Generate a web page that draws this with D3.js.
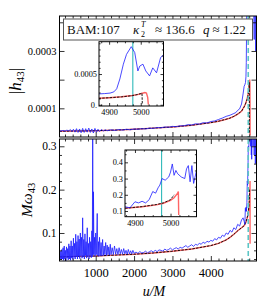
<!DOCTYPE html>
<html><head><meta charset="utf-8">
<script src="https://cdn.jsdelivr.net/npm/d3@7"></script>
<style>
body{margin:0;background:#fff;}
svg{display:block;font-family:"Liberation Serif","DejaVu Serif",serif;}
.ax path.domain{display:none;}
.ax line{stroke:#000;stroke-width:0.8;}
</style></head><body>
<svg id="c" width="270" height="298"></svg>
<script>
// ---------- data ----------
const blueH = [[57,2.2e-5],[100,2.1e-5],[150,2.3e-5],[200,2.0e-5],[250,2.4e-5],[300,2.1e-5],[340,2.6e-5],[380,1.9e-5],[420,2.7e-5],[460,1.7e-5],[500,2.9e-5],[540,1.6e-5],[580,2.8e-5],[620,1.5e-5],[660,3.0e-5],[700,1.6e-5],[740,2.9e-5],[780,1.7e-5],[820,3.1e-5],[860,1.6e-5],[900,2.8e-5],[940,1.4e-5],[980,3.0e-5],[1020,1.7e-5],[1060,2.7e-5],[1100,1.9e-5],[1150,2.6e-5],[1200,2.1e-5],[1250,2.5e-5],[1300,2.2e-5],[1400,2.5e-5],[1500,2.3e-5],[1600,2.6e-5],[1700,2.4e-5],[1800,2.7e-5],[1900,2.5e-5],[2000,2.8e-5],[2100,2.7e-5],[2200,2.9e-5],[2300,2.8e-5],[2400,3.1e-5],[2500,3.0e-5],[2600,3.3e-5],[2700,3.2e-5],[2800,3.5e-5],[2900,3.4e-5],[3000,3.7e-5],[3100,3.6e-5],[3200,3.9e-5],[3300,3.9e-5],[3400,4.3e-5],[3500,4.2e-5],[3600,4.6e-5],[3700,4.5e-5],[3800,5.0e-5],[3900,4.9e-5],[4000,5.4e-5],[4100,5.6e-5],[4200,6.1e-5],[4300,6.6e-5],[4400,7.2e-5],[4500,7.6e-5],[4600,8.2e-5],[4650,8.5e-5],[4700,9.3e-5],[4750,9.8e-5],[4800,0.000115],[4840,0.00015],[4868,0.000177],[4886,0.000182],[4903,0.00019],[4915,0.00021],[4924,0.00026],[4934,0.00042],[4945,0.00066],[4955,0.00082],[4970,0.000945],[4981,0.00085],[4991,0.00055],[4997,0.00063],[5007,0.00066],[5016,0.00055],[5028,0.00047],[5038,0.0006],[5050,0.00052],[5063,0.00077],[5072,0.00081],[5100,0.0006],[5130,0.00034],[5150,0.0007],[5170,0.00030],[5190,0.0006]];
const redH = [[57,2.0e-5],[500,2.1e-5],[1000,2.2e-5],[1500,2.4e-5],[2000,2.7e-5],[2500,3.1e-5],[3000,3.5e-5],[3500,4.1e-5],[4000,5.0e-5],[4200,5.5e-5],[4400,6.2e-5],[4500,6.6e-5],[4600,7.2e-5],[4700,8.0e-5],[4800,9.0e-5],[4868,0.000106],[4900,0.000115],[4940,0.00013],[4973,0.00015],[4990,0.000165],[5000,0.00018],[5013,0.0002],[5018,0.00019],[5022,0.00012],[5024,0.000005]];
const blackH = [[57,2.0e-5],[500,2.1e-5],[1000,2.2e-5],[1500,2.4e-5],[2000,2.7e-5],[2500,3.1e-5],[3000,3.5e-5],[3500,4.1e-5],[4000,5.0e-5],[4200,5.5e-5],[4400,6.2e-5],[4500,6.6e-5],[4600,7.2e-5],[4700,8.0e-5],[4800,9.0e-5],[4868,0.000105],[4900,0.000114],[4940,0.000129],[4973,0.000148],[4990,0.000168],[5000,0.000182],[5004,0.00019],[5005,0.00001]];
const blueW = [[57,0.05],[75,0.04],[90,0.058],[105,0.038],[120,0.062],[135,0.04],[150,0.066],[165,0.037],[180,0.07],[195,0.04],[210,0.06],[225,0.036],[240,0.068],[255,0.042],[270,0.064],[285,0.038],[300,0.075],[315,0.04],[330,0.07],[345,0.037],[360,0.082],[375,0.042],[390,0.07],[405,0.039],[420,0.088],[435,0.044],[450,0.076],[465,0.04],[480,0.097],[495,0.045],[510,0.08],[525,0.04],[540,0.094],[555,0.046],[570,0.086],[585,0.041],[600,0.1],[615,0.047],[630,0.09],[645,0.042],[660,0.135],[675,0.045],[690,0.085],[705,0.04],[720,0.098],[735,0.048],[750,0.08],[765,0.042],[780,0.112],[795,0.046],[810,0.076],[825,0.04],[840,0.09],[855,0.048],[870,0.08],[885,0.043],[900,0.105],[912,0.045],[922,0.34],[932,0.05],[942,0.195],[955,0.05],[970,0.09],[985,0.046],[1000,0.1],[1015,0.05],[1040,0.145],[1055,0.048],[1070,0.08],[1085,0.046],[1100,0.09],[1120,0.048],[1140,0.078],[1160,0.047],[1180,0.085],[1200,0.048],[1220,0.07],[1240,0.05],[1260,0.078],[1280,0.048],[1300,0.072],[1320,0.05],[1340,0.068],[1360,0.049],[1380,0.074],[1400,0.05],[1430,0.066],[1460,0.05],[1490,0.07],[1520,0.051],[1550,0.064],[1580,0.05],[1610,0.066],[1640,0.052],[1670,0.062],[1700,0.051],[1730,0.064],[1760,0.052],[1790,0.06],[1820,0.051],[1850,0.062],[1880,0.052],[1910,0.059],[1940,0.052],[1970,0.06],[2000,0.053],[2050,0.056],[2100,0.053],[2150,0.057],[2200,0.054],[2250,0.055],[2300,0.058],[2350,0.054],[2400,0.057],[2450,0.059],[2500,0.056],[2550,0.06],[2600,0.057],[2650,0.061],[2700,0.06],[2750,0.058],[2800,0.063],[2850,0.06],[2900,0.062],[2950,0.065],[3000,0.061],[3050,0.064],[3100,0.066],[3150,0.063],[3200,0.067],[3250,0.065],[3300,0.068],[3350,0.071],[3400,0.067],[3450,0.07],[3500,0.073],[3550,0.069],[3600,0.074],[3650,0.072],[3700,0.076],[3750,0.074],[3800,0.079],[3850,0.076],[3900,0.081],[3950,0.079],[4000,0.083],[4050,0.081],[4100,0.087],[4150,0.084],[4200,0.09],[4250,0.088],[4300,0.095],[4350,0.092],[4400,0.1],[4450,0.097],[4500,0.106],[4550,0.102],[4600,0.112],[4650,0.108],[4700,0.12],[4750,0.116],[4800,0.13],[4840,0.135],[4872,0.126],[4886,0.12],[4900,0.157],[4910,0.15],[4920,0.16],[4930,0.15],[4940,0.17],[4950,0.22],[4958,0.21],[4965,0.243],[4970,0.26],[4976,0.30],[4985,0.29],[4995,0.31],[5000,0.34],[5005,0.39],[5010,0.32],[5015,0.35],[5020,0.33],[5030,0.31],[5040,0.30],[5045,0.36],[5050,0.38],[5055,0.28],[5060,0.38],[5065,0.27],[5072,0.34],[5085,0.42],[5100,0.3],[5115,0.45],[5130,0.28],[5145,0.41],[5160,0.26],[5175,0.38],[5190,0.3]];
const redW = [[57,0.045],[500,0.046],[1000,0.047],[1500,0.049],[2000,0.051],[2500,0.054],[3000,0.058],[3500,0.063],[4000,0.071],[4200,0.076],[4400,0.084],[4500,0.09],[4600,0.097],[4700,0.105],[4800,0.112],[4872,0.117],[4920,0.126],[4960,0.138],[4980,0.148],[5000,0.166],[5010,0.182],[5020,0.21],[5022,0.22],[5023,0.075]];
const blackW = [[57,0.045],[500,0.046],[1000,0.047],[1500,0.049],[2000,0.051],[2500,0.054],[3000,0.058],[3500,0.063],[4000,0.071],[4200,0.076],[4400,0.084],[4500,0.09],[4600,0.097],[4700,0.105],[4800,0.112],[4872,0.117],[4920,0.127],[4960,0.14],[4980,0.15],[5000,0.17],[5010,0.2]];
const mergerU = 4975;
const xTicks = [1000,2000,3000,4000];
const xMinor = [200,400,600,800,1200,1400,1600,1800,2200,2400,2600,2800,3200,3400,3600,3800,4200,4400,4600,4800,5000];
const hTicks = [0.0001,0.0002,0.0003,0.0004];
const hTickLabels = ["0.0001","","0.0003",""];
const wTicks = [0.1,0.2,0.3];
const wMinor = [0.04,0.06,0.08,0.12,0.14,0.16,0.18,0.22,0.24,0.26,0.28];
const inXTicks = [4900,5000];
const inXMinor = [4875,4925,4950,4975,5025,5050];
const inHTicks = [0,0.0005];
const inHTickLabels = ["0.","0.0005"];
const inHMinor = [0.0001,0.0002,0.0003,0.0004,0.0006,0.0007,0.0008,0.0009,0.001];
const inWTicks = [0.1,0.2,0.3,0.4];
const inWMinor = [0.15,0.25,0.35,0.45];

// ---------- layout ----------
const svg = d3.select("#c");
const L = 59.5, R = 256.5;
const T1 = 16, B1 = 137, T2 = 139, B2 = 261;
const x = d3.scaleLinear().domain([57,5190]).range([L,R]);
const yH = d3.scaleLinear().domain([0,0.000422]).range([B1,T1]);
const yW = d3.scaleLinear().domain([0.0354,0.3168]).range([B2,T2]);

const BLUE = "#1f1fff", RED = "#ff4a4a";

function clip(id, x0,y0,w,h){
  svg.append("clipPath").attr("id",id).append("rect").attr("x",x0).attr("y",y0).attr("width",w).attr("height",h);
}
function curves(g, xs, ys, blue, red, black, bw){
  const ln = d3.line().x(d=>xs(d[0])).y(d=>ys(d[1]));
  g.append("path").attr("d",ln(red)).attr("fill","none").attr("stroke",RED).attr("stroke-width",1.4).attr("stroke-opacity",0.85);
  g.append("path").attr("d",ln(black)).attr("fill","none").attr("stroke","#000").attr("stroke-width",0.9).attr("stroke-dasharray","2.5,1.2");
  g.append("path").attr("d",ln(blue)).attr("fill","none").attr("stroke",BLUE).attr("stroke-width",bw).attr("stroke-opacity",0.9);
}
function ticks(xs, ys, x0,x1,y0,y1, xt, xm, yt, ym, len, mlen){
  const g = svg.append("g").attr("class","ax");
  g.append("g").attr("transform",`translate(0,${y1})`).call(d3.axisBottom(xs).tickValues(xt).tickSize(-len).tickFormat(""));
  g.append("g").attr("transform",`translate(0,${y1})`).call(d3.axisBottom(xs).tickValues(xm).tickSize(-mlen).tickFormat(""));
  g.append("g").attr("transform",`translate(0,${y0})`).call(d3.axisTop(xs).tickValues(xt).tickSize(-len).tickFormat(""));
  g.append("g").attr("transform",`translate(0,${y0})`).call(d3.axisTop(xs).tickValues(xm).tickSize(-mlen).tickFormat(""));
  g.append("g").attr("transform",`translate(${x0},0)`).call(d3.axisLeft(ys).tickValues(yt).tickSize(-len).tickFormat(""));
  g.append("g").attr("transform",`translate(${x0},0)`).call(d3.axisLeft(ys).tickValues(ym).tickSize(-mlen).tickFormat(""));
  g.append("g").attr("transform",`translate(${x1},0)`).call(d3.axisRight(ys).tickValues(yt).tickSize(-len).tickFormat(""));
  g.append("g").attr("transform",`translate(${x1},0)`).call(d3.axisRight(ys).tickValues(ym).tickSize(-mlen).tickFormat(""));
  g.selectAll("text").remove();
  svg.append("rect").attr("x",x0).attr("y",y0).attr("width",x1-x0).attr("height",y1-y0).attr("fill","none").attr("stroke","#000").attr("stroke-width",1);
}

// ---------- main panels ----------
clip("c1", L, T1, R-L, B1-T1);
clip("c2", L, T2, R-L, B2-T2);
const g1 = svg.append("g").attr("clip-path","url(#c1)");
curves(g1, x, yH, blueH, redH, blackH, 0.9);
const g2 = svg.append("g").attr("clip-path","url(#c2)");
curves(g2, x, yW, blueW, redW, blackW, 0.9);
[[g1,T1,B1],[g2,T2,B2]].forEach(([g,a,b])=>{
  g.append("line").attr("x1",x(mergerU)).attr("x2",x(mergerU)).attr("y1",a).attr("y2",b)
    .attr("stroke","#5cc6c6").attr("stroke-width",1.6).attr("stroke-dasharray","5,3");
});
ticks(x, yH, L,R,T1,B1, xTicks, xMinor, hTicks, [], 5, 2.5);
ticks(x, yW, L,R,T2,B2, xTicks, xMinor, wTicks, wMinor, 5, 2.5);

// tick labels via axes
svg.append("g").attr("class","ax").attr("transform",`translate(${L},0)`)
  .call(d3.axisLeft(yH).tickValues(hTicks).tickSize(0).tickPadding(3).tickFormat((d,i)=>hTickLabels[i]))
  .call(g=>g.selectAll("text").attr("font-size",10.5).attr("font-family","Liberation Serif"));
svg.append("g").attr("class","ax").attr("transform",`translate(${L},0)`)
  .call(d3.axisLeft(yW).tickValues(wTicks).tickSize(0).tickPadding(3).tickFormat(d3.format(".1f")))
  .call(g=>g.selectAll("text").attr("font-size",11.5).attr("font-family","Liberation Serif"));
svg.append("g").attr("class","ax").attr("transform",`translate(0,${B2})`)
  .call(d3.axisBottom(x).tickValues(xTicks).tickSize(0).tickPadding(7).tickFormat(d3.format("d")))
  .call(g=>g.selectAll("text").attr("font-size",12.5).attr("font-family","Liberation Serif"));

// ---------- insets ----------
function inset(id, x0,x1,y0,y1, xd, yd, blue, red, black, yt, ytl, ym){
  const xs = d3.scaleLinear().domain(xd).range([x0,x1]);
  const ys = d3.scaleLinear().domain(yd).range([y1,y0]);
  svg.append("rect").attr("x",x0).attr("y",y0).attr("width",x1-x0).attr("height",y1-y0).attr("fill","#fff");
  clip(id, x0,y0,x1-x0,y1-y0);
  const g = svg.append("g").attr("clip-path",`url(#${id})`);
  g.append("line").attr("x1",xs(mergerU)).attr("x2",xs(mergerU)).attr("y1",y0).attr("y2",y1)
    .attr("stroke","#00a9a9").attr("stroke-width",0.9);
  curves(g, xs, ys, blue, red, black, 0.9);
  ticks(xs, ys, x0,x1,y0,y1, inXTicks, inXMinor, yt, ym, 3, 1.6);
  svg.append("g").attr("class","ax").attr("transform",`translate(${x0},0)`)
    .call(d3.axisLeft(ys).tickValues(yt).tickSize(0).tickPadding(2).tickFormat((d,i)=>ytl[i]))
    .call(g=>g.selectAll("text").attr("font-size",8.3).attr("font-family","Liberation Serif"));
  svg.append("g").attr("class","ax").attr("transform",`translate(0,${y1})`)
    .call(d3.axisBottom(xs).tickValues(inXTicks).tickSize(0).tickPadding(3).tickFormat(d3.format("d")))
    .call(g=>g.selectAll("text").attr("font-size",8.3).attr("font-family","Liberation Serif"));
}
inset("i1", 99, 163.5, 41.7, 106, [4868,5072], [-0.00002,0.001026], blueH, redH, blackH, inHTicks, inHTickLabels, inHMinor);
inset("i2", 125, 196.5, 150, 216.7, [4872,5073], [0.065,0.476], blueW, redW, blackW, inWTicks, inWTicks.map(d3.format(".1f")), inWMinor);

// ---------- legend box ----------
svg.append("rect").attr("x",63.5).attr("y",19).attr("width",189).attr("height",21)
  .attr("fill","#fff").attr("stroke","#555").attr("stroke-width",1);
const lt = svg.append("text").attr("y",33.5).attr("font-size",13).attr("fill","#111");
lt.append("tspan").attr("x",67).text("BAM:107");
lt.append("tspan").attr("x",133).attr("font-style","italic").text("κ");
svg.append("text").attr("x",141).attr("y",36.5).attr("font-size",8).text("2");
svg.append("text").attr("x",141).attr("y",27).attr("font-size",8).attr("font-style","italic").text("T");
const lt2 = svg.append("text").attr("y",33.5).attr("font-size",13).attr("fill","#111");
lt2.append("tspan").attr("x",155).text("≈ 136.6");
lt2.append("tspan").attr("x",203).attr("font-style","italic").text("q");
lt2.append("tspan").attr("x",212.5).text("≈ 1.22");

// ---------- axis titles ----------
const yl1 = svg.append("text").attr("transform","translate(21,81) rotate(-90)").attr("text-anchor","middle").attr("font-size",17);
yl1.append("tspan").text("|");
yl1.append("tspan").attr("font-style","italic").text("h");
yl1.append("tspan").attr("font-size",11).attr("dy",3).text("43");
yl1.append("tspan").attr("dy",-3).text("|");
const yl2 = svg.append("text").attr("transform","translate(32,200) rotate(-90)").attr("text-anchor","middle").attr("font-size",15.5);
yl2.append("tspan").attr("font-style","italic").text("Mω");
yl2.append("tspan").attr("font-size",10.5).attr("dy",3).text("43");
svg.append("text").attr("x",154).attr("y",296).attr("text-anchor","middle").attr("font-size",14).attr("font-style","italic").text("u/M");
</script>
</body></html>
